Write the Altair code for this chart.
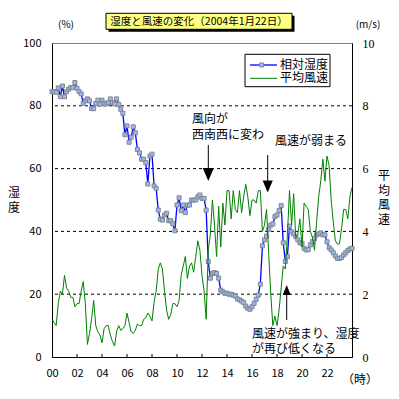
import altair as alt
import pandas as pd
import numpy as np

# 10-minute values, 00:00 .. 24:00
humidity = [
    84.5, 84.5, 84.3, 85.7, 82.9, 86.3, 82.9, 84.5, 85.3, 85.8,
    85.8, 87.4, 85.6, 84.5, 83.8, 80.8, 81.6, 82.2, 81.6, 79.1,
    79.1, 80.8, 81.8, 80.5, 81.8, 80.8, 80.6, 81.0, 82.2, 81.0,
    80.6, 82.2, 80.5, 78.9, 77.6, 70.8, 73.6, 68.4, 70.0, 73.3,
    71.4, 66.1, 65.0, 63.0, 63.0, 61.9, 55.1, 64.0, 64.6, 54.5,
    53.7, 46.8, 43.9, 43.6, 45.2, 45.8, 43.4, 43.4, 42.4, 40.2,
    48.4, 50.7, 46.6, 48.4, 46.0, 48.4, 48.4, 50.0, 50.0, 50.0,
    51.0, 51.6, 50.5, 50.5, 46.8, 30.4, 25.1, 26.6, 26.9, 26.6,
    25.1, 21.3, 20.8, 20.3, 20.3, 20.0, 20.0, 19.7, 19.4, 18.5,
    18.2, 17.8, 17.3, 16.2, 15.5, 15.2, 16.0, 17.1, 18.4, 19.7,
    23.2, 35.4, 37.3, 38.5, 40.7, 42.0, 42.4, 44.7, 45.2, 46.6,
    48.2, 36.4, 30.4, 32.0, 41.7, 39.9, 39.2, 38.3, 37.3, 36.4,
    36.2, 34.6, 34.1, 34.2, 35.7, 36.7, 37.8, 38.9, 39.2, 39.5,
    38.9, 38.9, 36.7, 34.8, 34.1, 33.2, 32.2, 31.4, 31.4, 31.7,
    32.5, 33.2, 33.9, 34.4, 34.6,
]
wind = [
    1.2, 1.1, 1.0, 1.7, 2.1, 2.0, 2.6, 2.2, 2.1, 1.9,
    1.9, 1.6, 1.7, 1.7, 2.1, 2.4, 1.7, 0.4, 0.75, 1.2,
    1.8, 1.0, 0.8, 0.7, 0.45, 0.9, 1.0, 1.0, 0.7, 0.5,
    0.35, 0.8, 1.0, 0.85, 0.9, 1.0, 1.4, 1.1, 0.8, 0.75,
    0.85, 1.05, 1.0, 1.0, 1.2, 1.25, 1.4, 1.3, 1.15, 1.75,
    2.1, 2.8, 3.0, 2.8, 2.1, 1.5, 1.2, 1.35, 1.7, 1.7,
    1.6, 1.8, 2.6, 2.9, 3.2, 2.5, 2.9, 3.0, 2.7, 3.2,
    3.7, 3.4, 2.6, 2.1, 1.2, 3.4, 3.9, 5.0, 4.2, 3.2,
    4.8, 3.5, 4.9, 4.2, 5.3, 5.3, 4.4, 5.3, 4.7, 4.6,
    5.3, 4.6, 5.1, 5.5, 5.1, 4.5, 5.0, 5.0, 4.9, 5.3,
    5.3, 4.0, 4.2, 4.7, 3.3, 2.0, 1.0, 1.3, 1.0, 1.5,
    2.2, 2.9, 2.8, 3.9, 5.3, 4.2, 5.2, 3.8, 3.9, 4.4,
    3.5, 4.9, 4.8, 4.7, 4.0, 3.8, 3.4, 4.3, 5.1, 5.6,
    6.3, 5.6, 6.4, 6.1, 5.0, 4.3, 3.7, 3.6, 3.6, 4.1,
    4.7, 4.7, 4.4, 5.1, 5.4,
]
hours = (np.arange(len(humidity)) / 6.0).tolist()

x_label_values = list(range(0, 24, 2))
x_inner_ticks = list(range(2, 24, 2))
hum_ticks = [0, 20, 40, 60, 80, 100]
wind_ticks = [0, 2, 4, 6, 8, 10]
grid_values = [20, 40, 60, 80]

title_text = "湿度と風速の変化（2004年1月22日）"
legend_names = ["相対湿度", "平均風速"]
left_title_chars = ["湿", "度"]
right_title_chars = ["平", "均", "風", "速"]

df = pd.DataFrame({"t": hours, "hum": humidity, "wind": wind})
one = pd.DataFrame({"k": [0]})

JP = "Noto Sans CJK JP"
W, H = 300, 314

xscale = alt.Scale(domain=[0, 24], nice=False, zero=False)
hscale = alt.Scale(domain=[0, 100], nice=False)
wscale = alt.Scale(domain=[0, 10], nice=False)

x_axis = alt.Axis(
    values=x_label_values,
    labelExpr="datum.value < 10 ? '0' + datum.value : '' + datum.value",
    ticks=False, grid=False, domainColor="black", domainWidth=1,
    labelPadding=10, labelFont=JP, labelFontSize=11, labelColor="black",
    labelFlush=False, title=None,
)
left_axis = alt.Axis(
    values=hum_ticks, ticks=False, grid=False, domainColor="black",
    labelPadding=11, labelFont=JP, labelFontSize=11, labelColor="black",
    labelFlush=False, title=None,
)
right_axis = alt.Axis(
    orient="right", values=wind_ticks, ticks=False, grid=False,
    domainColor="black", labelPadding=10, labelFont="Liberation Serif",
    labelFontSize=12, labelColor="black", labelFlush=False, title=None,
)

grid = alt.Chart(pd.DataFrame({"g": grid_values})).mark_rule(
    color="black", strokeDash=[3, 3], strokeWidth=1
).encode(y=alt.Y("g:Q", scale=hscale, axis=None))

xt = alt.Chart(pd.DataFrame({"xt": x_inner_ticks})).mark_rule(
    color="black", strokeWidth=1
).encode(
    x=alt.X("xt:Q", scale=xscale, axis=x_axis),
    y=alt.value(H), y2=alt.value(H - 3),
)

hum_line = alt.Chart(df).mark_line(color="#0000ff", strokeWidth=1.3).encode(
    x=alt.X("t:Q", scale=xscale, axis=x_axis),
    y=alt.Y("hum:Q", scale=hscale, axis=left_axis),
)
hum_pts = alt.Chart(df).mark_square(
    size=16, fill="#9db8e6", stroke="#7f8694", strokeWidth=1, opacity=1
).encode(
    x=alt.X("t:Q", scale=xscale, axis=x_axis),
    y=alt.Y("hum:Q", scale=hscale, axis=None),
)
wind_line = alt.Chart(df).mark_line(color="#008000", strokeWidth=1).encode(
    x=alt.X("t:Q", scale=xscale, axis=x_axis),
    y=alt.Y("wind:Q", scale=wscale, axis=right_axis),
)


def txt(text, x, y, size=12, align="left", baseline="top", font=JP, lh=None):
    kw = dict(text=text, align=align, baseline=baseline, font=font,
              fontSize=size, color="black")
    if lh is not None:
        kw["lineHeight"] = lh
    return alt.Chart(one).mark_text(**kw).encode(x=alt.value(x), y=alt.value(y))


def vline(x, y1, y2, color="black", width=1):
    return alt.Chart(one).mark_rule(color=color, strokeWidth=width).encode(
        x=alt.value(x), y=alt.value(y1), y2=alt.value(y2))


def hline(x1, x2, y, color="black", width=1):
    return alt.Chart(one).mark_rule(color=color, strokeWidth=width).encode(
        x=alt.value(x1), x2=alt.value(x2), y=alt.value(y))


def head(x, y, path, size):
    return alt.Chart(one).mark_point(
        shape=path, size=size, filled=True, color="black", opacity=1
    ).encode(x=alt.value(x), y=alt.value(y))


def box(x1, x2, y1, y2, fill, stroke=None):
    kw = dict(fill=fill)
    if stroke:
        kw.update(stroke=stroke, strokeWidth=1)
    return alt.Chart(one).mark_rect(**kw).encode(
        x=alt.value(x1), x2=alt.value(x2), y=alt.value(y1), y2=alt.value(y2))


DOWN = "M-0.85,-1L0.85,-1L0,1Z"
UP = "M-0.8,1L0.8,1L0,-1Z"

annotations = [
    txt("風向が", 140, 71),
    txt("西南西に変わ", 140, 87),
    vline(156.3, 102, 128),
    head(156.3, 131.5, DOWN, 169),
    txt("風速が弱まる", 223, 93),
    vline(215.7, 112, 140),
    head(215.7, 143.5, DOWN, 144),
    txt("風速が強まり、湿度", 200, 286),
    txt("が再び低くなる", 200, 301),
    vline(234.7, 277, 250),
    head(234.7, 247, UP, 100),
    # axis unit labels and titles
    txt("(%)", 14, -23, size=10, align="center"),
    txt("(m/s)", 316, -23, size=10, align="center"),
    txt("（時）", 308, 332, size=12, align="center"),
]
for k, ch in enumerate(left_title_chars):
    annotations.append(txt(ch, -38, 145 + 15 * k, size=12, align="center"))
for k, ch in enumerate(right_title_chars):
    annotations.append(txt(ch, 332, 128 + 14.5 * k, size=12, align="center"))

legend = [
    box(193, 278, 11.3, 43.7, "white", "black"),
    hline(198, 225, 22, "#0000ff", 1.3),
    alt.Chart(one).mark_square(
        size=16, fill="#9db8e6", stroke="#7f8694", strokeWidth=1, opacity=1
    ).encode(x=alt.value(209.7), y=alt.value(22)),
    hline(198, 225, 35.3, "#008000", 1),
    txt(legend_names[0], 228, 22, size=12, baseline="middle"),
    txt(legend_names[1], 228, 35.3, size=12, baseline="middle"),
]

title = [
    box(56.5, 242.5, -27.2, -11.2, "black"),
    box(54, 240, -29.7, -13.7, "#ffff80", "black"),
    txt(title_text, 147, -21.5, size=10.5, align="center", baseline="middle"),
]

chart = alt.layer(
    grid, xt, hum_line, hum_pts, wind_line, *annotations, *legend, *title
).resolve_scale(y="independent").properties(
    width=W, height=H,
    autosize=alt.AutoSizeParams(type="none"),
    padding={"left": 44, "top": 35, "right": 39, "bottom": 34},
).configure_view(stroke="#808080", strokeWidth=1)

chart.save("out.html", embed_options={"renderer": "svg", "actions": False})
